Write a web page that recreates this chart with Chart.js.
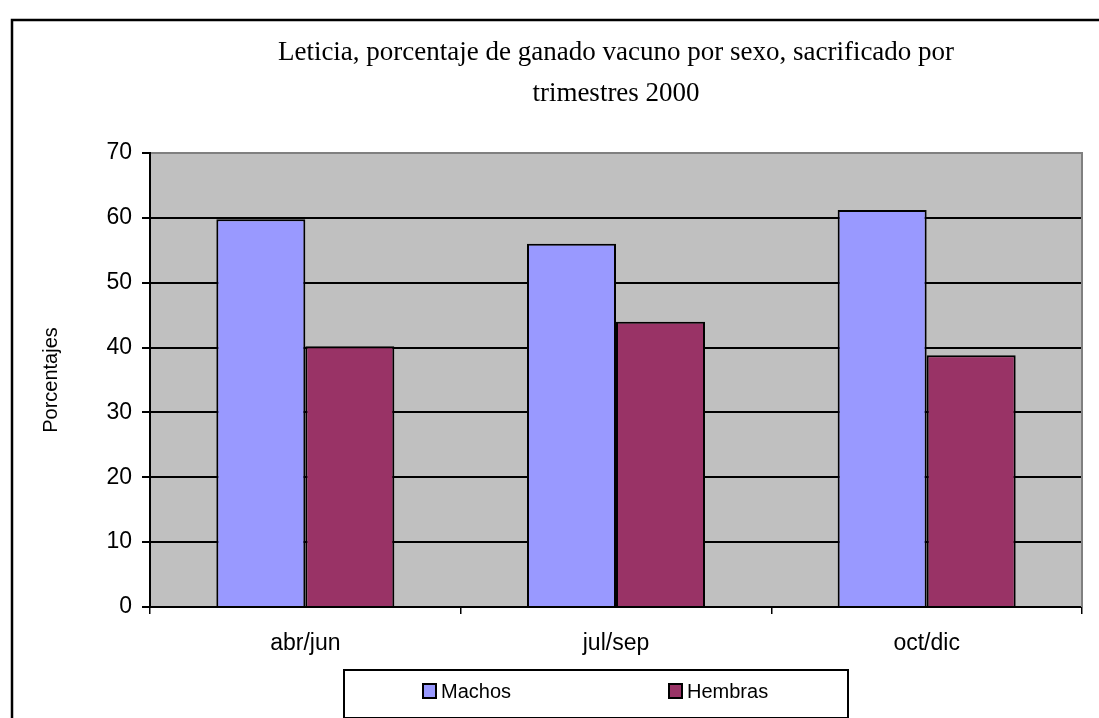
<!DOCTYPE html>
<html>
<head>
<meta charset="utf-8">
<script src="https://cdn.jsdelivr.net/npm/chart.js@4/dist/chart.umd.min.js"></script>
<style>
  html, body { margin: 0; padding: 0; background: #fff; }
  #wrap { width: 1099px; height: 718px; }
</style>
</head>
<body>
<div id="wrap"><canvas id="myChart" width="1099" height="718"></canvas></div>
<script>
var trimestres = ['abr/jun', 'jul/sep', 'oct/dic'];
var machos = [59.8, 56.0, 61.2];
var hembras = [40.2, 44.0, 38.8];
var tituloLineas = ['Leticia, porcentaje de ganado vacuno por sexo, sacrificado por', 'trimestres 2000'];
var ejeY = 'Porcentajes';

// fondo gris del area, marco exterior, titulo, leyenda
var decor = {
    id: 'decor',
    beforeDraw: function(chart) {
        var c = chart.ctx, a = chart.chartArea;
        c.save();
        c.fillStyle = '#fff';
        c.fillRect(0, 0, chart.width, chart.height);
        c.fillStyle = '#c0c0c0';
        c.fillRect(a.left, a.top, a.right - a.left, a.bottom - a.top);
        c.restore();
    },
    afterDraw: function(chart) {
        var c = chart.ctx, a = chart.chartArea;
        c.save();
        // borde derecho del area en gris
        c.strokeStyle = '#808080';
        c.lineWidth = 2;
        c.beginPath();
        c.moveTo(a.right, a.top - 1);
        c.lineTo(a.right, a.bottom);
        c.stroke();

        // marco exterior
        c.strokeStyle = '#000';
        c.lineWidth = 2.5;
        c.strokeRect(12, 20, 1200, 800);

        // titulo
        var cx = (a.left + a.right) / 2;
        c.fillStyle = '#000';
        c.font = '27px "Liberation Serif", "Times New Roman", serif';
        c.textAlign = 'center';
        c.textBaseline = 'middle';
        c.fillText(tituloLineas[0], cx, 53);
        c.fillText(tituloLineas[1], cx, 94);

        // titulo eje y
        c.font = '20px "Liberation Sans", Arial, sans-serif';
        c.translate(51, (a.top + a.bottom) / 2);
        c.rotate(-Math.PI / 2);
        c.fillText(ejeY, 0, 0);
        c.setTransform(1, 0, 0, 1, 0, 0);

        // leyenda
        c.lineWidth = 2;
        c.strokeRect(344, 670, 504, 48);
        var xs = [423, 669];
        c.font = '20px "Liberation Sans", Arial, sans-serif';
        c.textAlign = 'left';
        chart.data.datasets.forEach(function(ds, i) {
            c.fillStyle = ds.backgroundColor;
            c.fillRect(xs[i], 684, 13, 14);
            c.lineWidth = 2;
            c.strokeStyle = '#000';
            c.strokeRect(xs[i], 684, 13, 14);
            c.fillStyle = '#000';
            c.fillText(ds.label, xs[i] + 18, 692);
        });
        c.restore();
    }
};

var ctx = document.getElementById('myChart').getContext('2d');
var myChart = new Chart(ctx, {
    type: 'bar',
    data: {
        labels: trimestres,
        datasets: [{
            label: 'Machos',
            data: machos,
            backgroundColor: '#9999ff',
            borderColor: '#000',
            borderWidth: 2
        }, {
            label: 'Hembras',
            data: hembras,
            backgroundColor: '#993366',
            borderColor: '#000',
            borderWidth: 2
        }]
    },
    options: {
        responsive: false,
        animation: false,
        layout: { padding: { top: 153, right: 17, left: 0, bottom: 0 } },
        plugins: {
            legend: { display: false },
            title: { display: false },
            tooltip: { enabled: false }
        },
        datasets: { bar: { barPercentage: 1, categoryPercentage: 0.573 } },
        scales: {
            x: {
                afterFit: function(s) { s.height = 111; },
                grid: {
                    offset: true,
                    drawOnChartArea: false,
                    drawTicks: true,
                    tickLength: 7,
                    color: '#000',
                    lineWidth: 1.5
                },
                border: { color: '#000', width: 2 },
                ticks: {
                    color: '#000',
                    padding: 16,
                    font: { family: '"Liberation Sans", Arial, sans-serif', size: 23 }
                }
            },
            y: {
                min: 0,
                max: 70,
                afterFit: function(s) { s.width = 150; },
                grid: {
                    color: function(c) { return c.tick && c.tick.value === 70 ? '#808080' : '#000'; },
                    tickColor: '#000',
                    lineWidth: 2,
                    tickLength: 8
                },
                border: { color: '#000', width: 2 },
                ticks: {
                    stepSize: 10,
                    color: '#000',
                    padding: 10,
                    font: { family: '"Liberation Sans", Arial, sans-serif', size: 23 }
                }
            }
        }
    },
    plugins: [decor]
});
</script>
</body>
</html>
